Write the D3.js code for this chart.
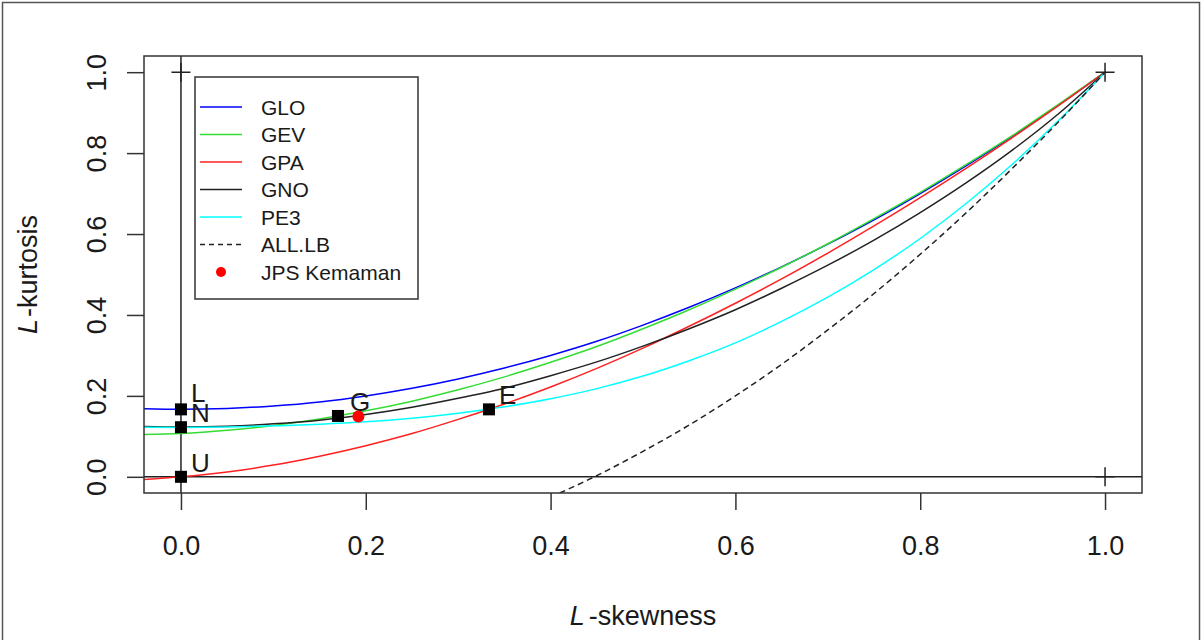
<!DOCTYPE html>
<html>
<head>
<meta charset="utf-8">
<script src="https://cdn.jsdelivr.net/npm/d3@7"></script>
<style>
  body { margin: 0; background: #fff; }
  svg { display: block; font-family: "Liberation Sans", Arial, sans-serif; }
</style>
</head>
<body>
<svg id="chart" width="1204" height="640"></svg>
<script>
// L-skewness grid used by the theoretical curves
const tau3 = [-0.05, 0, 0.05, 0.1, 0.15, 0.2, 0.25, 0.3, 0.35, 0.4, 0.45, 0.5,
              0.55, 0.6, 0.65, 0.7, 0.75, 0.8, 0.85, 0.9, 0.95, 1.0];

const gloT4 = [0.169, 0.167, 0.169, 0.175, 0.185, 0.200, 0.219, 0.242, 0.269, 0.300, 0.335, 0.375,
               0.419, 0.467, 0.519, 0.575, 0.635, 0.700, 0.769, 0.842, 0.919, 1.000];
const gevT4 = [0.104, 0.107, 0.115, 0.127, 0.143, 0.163, 0.187, 0.215, 0.247, 0.283, 0.322, 0.366,
               0.413, 0.464, 0.518, 0.576, 0.638, 0.703, 0.772, 0.844, 0.921, 1.000];
const gpaT4 = [-0.008, 0.000, 0.012, 0.029, 0.051, 0.077, 0.107, 0.142, 0.180, 0.222, 0.268, 0.318,
               0.372, 0.429, 0.489, 0.553, 0.620, 0.690, 0.763, 0.839, 0.918, 1.000];
const gnoT4 = [0.125, 0.123, 0.125, 0.131, 0.140, 0.154, 0.172, 0.194, 0.219, 0.250, 0.284, 0.323,
               0.366, 0.413, 0.466, 0.523, 0.585, 0.653, 0.727, 0.808, 0.898, 1.000];
const pe3T4 = [0.123, 0.122, 0.123, 0.126, 0.130, 0.136, 0.145, 0.157, 0.173, 0.193, 0.218, 0.249,
               0.287, 0.331, 0.384, 0.444, 0.512, 0.589, 0.676, 0.773, 0.881, 1.000];

const lbTau3 = [0.35, 0.4, 0.45, 0.5, 0.55, 0.6, 0.65, 0.7, 0.75, 0.8, 0.85, 0.9, 0.95, 1.0];
const lbT4   = [-0.097, -0.050, 0.003, 0.063, 0.128, 0.200, 0.278, 0.363, 0.453, 0.550, 0.653, 0.763, 0.878, 1.000];

// special distributions
const specialNames = ["L", "N", "U", "G", "E"];
const specialT3 = [0, 0, 0, 0.1699, 0.3333];
const specialT4 = [0.1667, 0.1226, 0, 0.1504, 0.1667];

// sample point
const siteName = "JPS Kemaman";
const siteT3 = [0.192];
const siteT4 = [0.149];

const xTicks = [0, 0.2, 0.4, 0.6, 0.8, 1.0];
const yTicks = [0, 0.2, 0.4, 0.6, 0.8, 1.0];

const series = [
  { name: "GLO", t3: tau3, t4: gloT4, color: "#0000ff", dash: null },
  { name: "GEV", t3: tau3, t4: gevT4, color: "#33dd33", dash: null },
  { name: "GPA", t3: tau3, t4: gpaT4, color: "#ff2020", dash: null },
  { name: "GNO", t3: tau3, t4: gnoT4, color: "#222222", dash: null },
  { name: "PE3", t3: tau3, t4: pe3T4, color: "#00ffff", dash: null },
  { name: "ALL.LB", t3: lbTau3, t4: lbT4, color: "#222222", dash: "6,4" }
];

const svg = d3.select("#chart");
const pLeft = 144, pRight = 1142, pTop = 56, pBottom = 493;
const textCol = "#1a1a1a";

const x = d3.scaleLinear().domain([-0.04, 1.04]).range([pLeft, pRight]);
const y = d3.scaleLinear().domain([-0.04, 1.04]).range([pBottom, pTop]);

// outer frame of the picture
svg.append("rect")
  .attr("x", 2.5).attr("y", 2.5).attr("width", 1197).attr("height", 645)
  .attr("fill", "none").attr("stroke", "#555").attr("stroke-width", 1.5);

svg.append("clipPath").attr("id", "plotClip")
  .append("rect")
  .attr("x", pLeft).attr("y", pTop)
  .attr("width", pRight - pLeft).attr("height", pBottom - pTop);

const plot = svg.append("g").attr("clip-path", "url(#plotClip)");

// reference lines at 0
plot.append("line")
  .attr("x1", pLeft).attr("x2", pRight).attr("y1", y(0)).attr("y2", y(0))
  .attr("stroke", "#222").attr("stroke-width", 1.5);
plot.append("line")
  .attr("x1", x(0)).attr("x2", x(0)).attr("y1", pTop).attr("y2", pBottom)
  .attr("stroke", "#222").attr("stroke-width", 1.5);

const line = d3.line()
  .x(d => x(d[0]))
  .y(d => y(d[1]))
  .curve(d3.curveMonotoneX);

series.forEach(s => {
  plot.append("path")
    .datum(s.t3.map((v, i) => [v, s.t4[i]]))
    .attr("d", line)
    .attr("fill", "none")
    .attr("stroke", s.color)
    .attr("stroke-width", 1.5)
    .attr("stroke-dasharray", s.dash);
});

// "+" limit markers
const plusPts = [[0, 1], [1, 1], [1, 0]];
plusPts.forEach(p => {
  plot.append("path")
    .attr("d", `M${x(p[0]) - 9.5},${y(p[1])}H${x(p[0]) + 9.5}M${x(p[0])},${y(p[1]) - 9.5}V${y(p[1]) + 9.5}`)
    .attr("stroke", "#222").attr("stroke-width", 1.5).attr("fill", "none");
});

// special distribution squares and labels
specialNames.forEach((n, i) => {
  svg.append("rect")
    .attr("x", x(specialT3[i]) - 6).attr("y", y(specialT4[i]) - 6)
    .attr("width", 12).attr("height", 12)
    .attr("fill", "#000");
  svg.append("text")
    .attr("x", x(specialT3[i]) + (n === "G" ? 12 : 10))
    .attr("y", y(specialT4[i]) - (n === "L" ? 7 : 5))
    .style("font-size", "26px")
    .style("fill", textCol)
    .text(n);
});

// site point
svg.selectAll("circle.site")
  .data(siteT3)
  .enter()
  .append("circle")
  .attr("class", "site")
  .attr("cx", d => x(d))
  .attr("cy", (d, i) => y(siteT4[i]))
  .attr("r", 6)
  .attr("fill", "#ff0000");

// plot box
svg.append("rect")
  .attr("x", pLeft).attr("y", pTop)
  .attr("width", pRight - pLeft).attr("height", pBottom - pTop)
  .attr("fill", "none").attr("stroke", "#333").attr("stroke-width", 1.5);

// axes
const xAxis = svg.append("g")
  .attr("transform", `translate(0,${pBottom})`)
  .call(d3.axisBottom(x).tickValues(xTicks).tickSize(17).tickFormat(d3.format(".1f")));
xAxis.select(".domain").remove();
xAxis.selectAll("line").attr("stroke", "#333").attr("stroke-width", 1.5);
xAxis.selectAll("text")
  .attr("y", 62).attr("dy", null)
  .style("font-size", "27px")
  .style("font-family", "Liberation Sans, Arial, sans-serif")
  .style("fill", textCol);

const yAxis = svg.append("g")
  .attr("transform", `translate(${pLeft},0)`)
  .call(d3.axisLeft(y).tickValues(yTicks).tickSize(17).tickFormat(d3.format(".1f")));
yAxis.select(".domain").remove();
yAxis.selectAll("line").attr("stroke", "#333").attr("stroke-width", 1.5);
yAxis.selectAll("text")
  .attr("x", 0).attr("y", 0).attr("dy", null)
  .attr("text-anchor", "middle")
  .attr("transform", "translate(-38,0) rotate(-90)")
  .style("font-size", "27px")
  .style("font-family", "Liberation Sans, Arial, sans-serif")
  .style("fill", textCol);

// axis titles
const xTitle = svg.append("text")
  .attr("x", (pLeft + pRight) / 2).attr("y", 625)
  .attr("text-anchor", "middle")
  .style("font-size", "27px").style("fill", textCol);
xTitle.append("tspan").style("font-style", "italic").text("L");
xTitle.append("tspan").attr("dx", 4).text("-skewness");

const yTitle = svg.append("text")
  .attr("transform", `translate(37,${(pTop + pBottom) / 2}) rotate(-90)`)
  .attr("text-anchor", "middle")
  .style("font-size", "27px").style("fill", textCol);
yTitle.append("tspan").style("font-style", "italic").text("L");
yTitle.append("tspan").attr("dx", 2).text("-kurtosis");

// legend
const legend = svg.append("g");
legend.append("rect")
  .attr("x", 195).attr("y", 77).attr("width", 223).attr("height", 222)
  .attr("fill", "#fff").attr("stroke", "#333").attr("stroke-width", 1.5);

const rowY = i => 107 + i * 27.5;
series.forEach((s, i) => {
  legend.append("line")
    .attr("x1", 200).attr("x2", 242).attr("y1", rowY(i)).attr("y2", rowY(i))
    .attr("stroke", s.color).attr("stroke-width", 1.5)
    .attr("stroke-dasharray", s.dash ? "5,4" : null);
  legend.append("text")
    .attr("x", 261).attr("y", rowY(i)).attr("dy", "0.36em")
    .style("font-size", "21px").style("fill", textCol)
    .text(s.name);
});
legend.append("circle")
  .attr("cx", 221).attr("cy", rowY(6)).attr("r", 5).attr("fill", "#ff0000");
legend.append("text")
  .attr("x", 261).attr("y", rowY(6)).attr("dy", "0.36em")
  .style("font-size", "21px").style("fill", textCol)
  .text(siteName);
</script>
</body>
</html>
